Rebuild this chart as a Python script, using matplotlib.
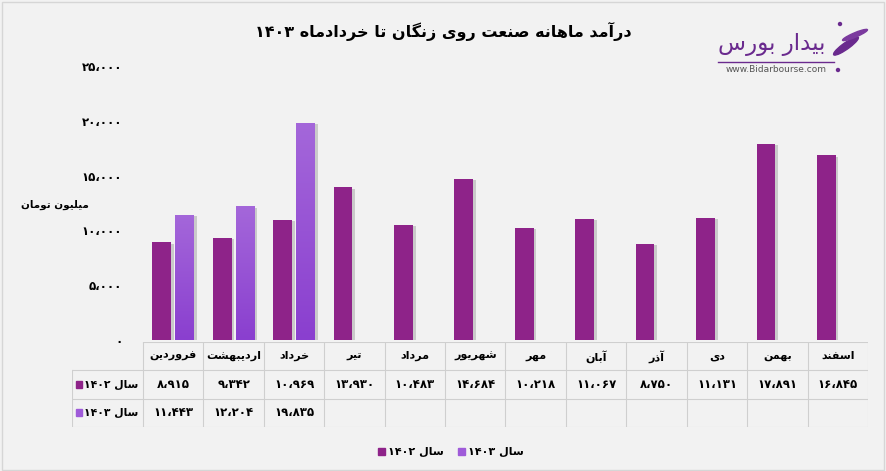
import re
import matplotlib
matplotlib.use("Agg")
import matplotlib.pyplot as plt
import matplotlib.patheffects as pe
from matplotlib.colors import LinearSegmentedColormap
from matplotlib.patches import Rectangle, Ellipse
import numpy as np

# data
months = ["فروردین", "اردیبهشت", "خرداد", "تیر", "مرداد", "شهریور",
          "مهر", "آبان", "آذر", "دی", "بهمن", "اسفند"]
values_1402 = [8915, 9342, 10969, 13930, 10483, 14684,
               10218, 11067, 8750, 11131, 17891, 16845]
values_1403 = [11443, 12204, 19835]
series_names = ["سال ۱۴۰۲", "سال ۱۴۰۳"]
title = "درآمد ماهانه صنعت روی زنگان تا خردادماه ۱۴۰۳"
y_label = "میلیون تومان"
y_ticks = [0, 5000, 10000, 15000, 20000, 25000]

c1402 = "#8E2389"
c1403 = "#9F5BD9"
bg = "#F2F2F2"

# --- very small Persian shaper (matplotlib has no text shaping) ---
FORMS = {
    'ا': (0xFE8D, 2), 'آ': (0xFE81, 2), 'ب': (0xFE8F, 4), 'پ': (0xFB56, 4),
    'ت': (0xFE95, 4), 'خ': (0xFEA5, 4), 'د': (0xFEA9, 2), 'ذ': (0xFEAB, 2),
    'ر': (0xFEAD, 2), 'ز': (0xFEAF, 2), 'س': (0xFEB1, 4), 'ش': (0xFEB5, 4),
    'ص': (0xFEB9, 4), 'ع': (0xFEC9, 4), 'ف': (0xFED1, 4), 'گ': (0xFB92, 4),
    'ل': (0xFEDD, 4), 'م': (0xFEE1, 4), 'ن': (0xFEE5, 4), 'ه': (0xFEE9, 4),
    'و': (0xFEED, 2), 'ی': (0xFBFC, 4), 'ک': (0xFB8E, 4),
}


def shape(text):
    out = []
    for i, ch in enumerate(text):
        if ch not in FORMS:
            out.append(ch)
            continue
        base, n = FORMS[ch]
        prev = i > 0 and text[i - 1] in FORMS and FORMS[text[i - 1]][1] == 4
        nxt = n == 4 and i + 1 < len(text) and text[i + 1] in FORMS
        if prev and nxt:
            k = 3
        elif prev:
            k = 1
        elif nxt:
            k = 2
        else:
            k = 0
        out.append(chr(base + k))
    return "".join(out)


def fa(text):
    runs = re.findall(r"[۰-۹،]+|[^۰-۹،]+", shape(text))
    vis = []
    for r in reversed(runs):
        vis.append(r if re.match(r"[۰-۹]", r) else r[::-1])
    return "".join(vis)


def fa_num(v):
    s = f"{v:,}".replace(",", "،")
    return s.translate(str.maketrans("0123456789", "۰۱۲۳۴۵۶۷۸۹"))


plt.rcParams['font.family'] = ['DejaVu Sans']
plt.rcParams['font.weight'] = 'bold'

W, H = 886, 471
fig = plt.figure(figsize=(W / 100, H / 100), dpi=100)
fig.patch.set_facecolor(bg)
fig.patches.append(Rectangle((0.002, 0.002), 0.996, 0.994, transform=fig.transFigure,
                             fill=False, edgecolor="#D6D6D6", lw=1))


def px(x0, y0, x1, y1):
    return [x0 / W, 1 - y1 / H, (x1 - x0) / W, (y1 - y0) / H]


# bars
ax = fig.add_axes(px(143, 66, 868, 340))
ax.set_facecolor(bg)
x = np.arange(len(months))
bw = 0.31
off = 0.19
shadow = [pe.SimplePatchShadow(offset=(2, -1), shadow_rgbFace="#808080", alpha=0.35), pe.Normal()]
b1 = ax.bar(x - off, values_1402, bw, color=c1402, zorder=2)
b2 = ax.bar(x[:len(values_1403)] + off, values_1403, bw, color=c1403, zorder=2)
for b in list(b1) + list(b2):
    b.set_path_effects(shadow)

grad = LinearSegmentedColormap.from_list("g", ["#8A3FCF", "#A467DA"])
for b in b2:
    x0, y0 = b.get_x(), b.get_y()
    im = ax.imshow(np.linspace(0, 1, 100).reshape(-1, 1), cmap=grad, origin="lower",
                   extent=[x0, x0 + b.get_width(), y0, y0 + b.get_height()],
                   aspect="auto", zorder=3)
    im.set_clip_path(b)

ax.set_xlim(-0.5, len(months) - 0.5)
ax.set_ylim(0, 25000)
ax.set_yticks(y_ticks)
ax.set_yticklabels([fa_num(t) for t in y_ticks], fontsize=8.5, fontweight="bold")
ax.tick_params(axis="y", length=0, pad=15)
ax.set_xticks([])
for s in ax.spines.values():
    s.set_visible(False)

fig.text(55 / W, 1 - 205 / H, fa(y_label), ha="center", va="center", fontsize=7.5, fontweight="bold")
fig.text(443 / W, 1 - 31 / H, fa(title), ha="center", va="center", fontsize=11.5, fontweight="bold")

# data table
tx0 = -0.5 - (143 - 72) / 60.417
axt = fig.add_axes(px(72, 342, 868, 427))
axt.set_xlim(tx0, len(months) - 0.5)
axt.set_ylim(0, 3)
axt.axis("off")
grid = "#CFCFCF"
for i in range(len(months) + 1):
    axt.plot([i - 0.5, i - 0.5], [0, 3], color=grid, lw=0.8)
axt.plot([tx0, tx0], [0, 2], color=grid, lw=0.8)
axt.plot([-0.5, len(months) - 0.5], [3, 3], color=grid, lw=0.8)
for yy in (0, 1, 2):
    axt.plot([tx0, len(months) - 0.5], [yy, yy], color=grid, lw=0.8)

for i, m in enumerate(months):
    axt.text(i, 2.5, fa(m), ha="center", va="center", fontsize=8, fontweight="bold")
    axt.text(i, 1.5, fa_num(values_1402[i]), ha="center", va="center", fontsize=8.5, fontweight="bold")
    if i < len(values_1403):
        axt.text(i, 0.5, fa_num(values_1403[i]), ha="center", va="center", fontsize=8.5, fontweight="bold")

for row, name, col in ((1.5, series_names[0], c1402), (0.5, series_names[1], c1403)):
    axt.add_patch(Rectangle((tx0 + 0.06, row - 0.12), 0.1, 0.24, color=col))
    axt.text(-0.58, row, fa(name), ha="right", va="center", fontsize=7.8, fontweight="bold")

# legend at the bottom
for lx, name, col in ((378, series_names[0], c1402), (458, series_names[1], c1403)):
    fig.patches.append(Rectangle((lx / W, 1 - 455 / H), 7 / W, 7 / H, transform=fig.transFigure,
                                 color=col))
    fig.text((lx + 10) / W, 1 - 452 / H, fa(name), ha="left", va="center", fontsize=8,
             fontweight="bold")

# logo
logo = "#6A2A8E"
fig.text(772 / W, 1 - 45 / H, fa("بیدار بورس"), ha="center", va="center", fontsize=16.5,
         color=logo, fontweight="normal")
fig.lines.append(plt.Line2D([718 / W, 834 / W], [1 - 62 / H, 1 - 62 / H], transform=fig.transFigure,
                            color=logo, lw=1))
fig.text(776 / W, 1 - 70 / H, "www.Bidarbourse.com", ha="center", va="center", fontsize=6.5,
         color="#555555", fontweight="normal")
fig.patches.append(Ellipse((838 / W, 1 - 70 / H), 3 / W, 3 / H, transform=fig.transFigure, color=logo))
fig.patches.append(Ellipse((846 / W, 1 - 46 / H), 9 / W, 22 / H, angle=-35, transform=fig.transFigure,
                           color=logo))
fig.patches.append(Ellipse((855 / W, 1 - 35 / H), 7 / W, 17 / H, angle=-50, transform=fig.transFigure,
                           color="#7B3A9E"))
fig.patches.append(Ellipse((840 / W, 1 - 24 / H), 3 / W, 3 / H, transform=fig.transFigure, color=logo))

fig.savefig("out.png", dpi=100, facecolor=bg)
